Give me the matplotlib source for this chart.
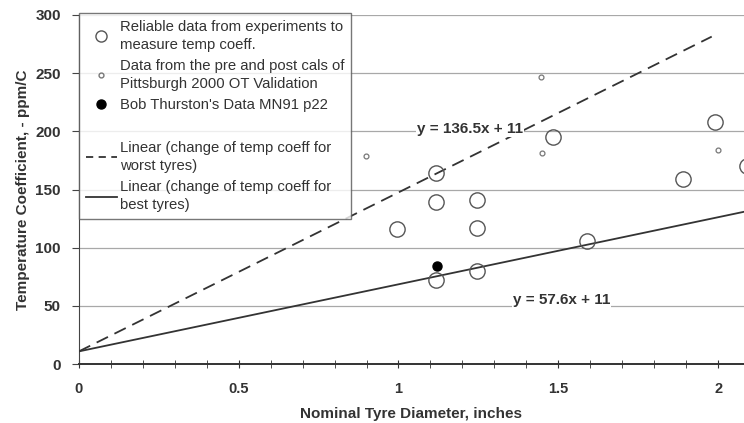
import matplotlib
matplotlib.use("Agg")
import matplotlib.pyplot as plt
from matplotlib.lines import Line2D
import numpy as np

plt.rcParams['font.family'] = ['Liberation Sans', 'DejaVu Sans']

# reliable experiment data (large open circles)
reliable_x = [0.995, 1.117, 1.117, 1.246, 1.246, 1.484, 1.59, 1.89, 1.99, 2.09, 1.117, 1.246]
reliable_y = [116, 164, 139, 141, 117, 195, 106, 159, 208, 170, 72, 80]

# Pittsburgh 2000 OT validation data (small open circles)
pitts_x = [0.898, 1.447, 1.449, 2.0]
pitts_y = [179, 247, 181, 184]

# Bob Thurston's data (filled dot)
bob_x = [1.12]
bob_y = [84]

# trendlines
worst_slope, worst_icpt = 136.5, 11
best_slope, best_icpt = 57.6, 11
worst_xmax = 1.98
best_xmax = 2.1

fig = plt.figure(figsize=(7.44, 4.23), dpi=100)
ax = fig.add_axes([0.106, 0.139, 0.894, 0.826])

grey = '#555555'
ax.set_xlim(0, 2.081)
ax.set_ylim(0, 300)

# horizontal gridlines
for g in range(50, 301, 50):
    ax.axhline(g, color='#a8a8a8', lw=0.9, zorder=1)

xw = np.array([0, worst_xmax])
ax.plot(xw, worst_slope * xw + worst_icpt, color='#333333', lw=1.3,
        dashes=(7, 4), zorder=3)
xb = np.array([0, best_xmax])
ax.plot(xb, best_slope * xb + best_icpt, color='#333333', lw=1.3, zorder=3)

ax.plot(reliable_x, reliable_y, 'o', ms=11, mfc='none', mec=grey, mew=1.0, zorder=4)
ax.plot(pitts_x, pitts_y, 'o', ms=3.5, mfc='none', mec='#777777', mew=0.9, zorder=4)
ax.plot(bob_x, bob_y, 'o', ms=6.5, mfc='black', mec='black', zorder=5)

# trendline equations
ax.text(1.224, 202, 'y = 136.5x + 11', fontsize=11, fontweight='bold', color='#333333',
        ha='center', va='center', zorder=6,
        bbox=dict(facecolor='white', edgecolor='none', pad=0.5))
ax.text(1.51, 55, 'y = 57.6x + 11', fontsize=11, fontweight='bold', color='#333333',
        ha='center', va='center', zorder=6,
        bbox=dict(facecolor='white', edgecolor='none', pad=0.5))

# axes styling
for s in ['top', 'right']:
    ax.spines[s].set_visible(False)
ax.spines['left'].set_color('#444444')
ax.spines['bottom'].set_color('#333333')
ax.spines['bottom'].set_linewidth(1.4)

ax.set_xticks([0, 0.5, 1, 1.5, 2])
ax.set_xticklabels(['0', '0.5', '1', '1.5', '2'])
ax.set_xticks(np.arange(0, 2.09, 0.1), minor=True)
ax.tick_params(axis='x', which='both', direction='inout', length=6, color='#333333',
               pad=10, labelsize=10.5, labelcolor='#333333')
ax.set_yticks(range(0, 301, 50))
ax.tick_params(axis='y', direction='out', length=5, color='#444444', pad=8,
               labelsize=11, labelcolor='#333333')
for lab in ax.get_xticklabels() + ax.get_yticklabels():
    lab.set_fontweight('bold')

ax.set_xlabel('Nominal Tyre Diameter, inches', fontsize=11, fontweight='bold',
              color='#333333', labelpad=8)
ax.set_ylabel('Temperature Coefficient, - ppm/C', fontsize=11, fontweight='bold',
              color='#333333', labelpad=4)

handles = [
    Line2D([], [], ls='none', marker='o', ms=8, mfc='none', mec=grey),
    Line2D([], [], ls='none', marker='o', ms=3.5, mfc='none', mec='#777777'),
    Line2D([], [], ls='none', marker='o', ms=6.5, mfc='black', mec='black'),
    Line2D([], [], ls='none'),
    Line2D([], [], color='#333333', lw=1.3, dashes=(4, 3)),
    Line2D([], [], color='#333333', lw=1.3),
]
labels = [
    'Reliable data from experiments to\nmeasure temp coeff.',
    'Data from the pre and post cals of\nPittsburgh 2000 OT Validation',
    "Bob Thurston's Data MN91 p22",
    ' ',
    'Linear (change of temp coeff for\nworst tyres)',
    'Linear (change of temp coeff for\nbest tyres)',
]
leg = ax.legend(handles, labels, loc='upper left', bbox_to_anchor=(0, 1.005),
                borderaxespad=0, fontsize=10.7, frameon=True, fancybox=False,
                handlelength=2.1, handletextpad=0.2, labelspacing=0.5,
                borderpad=0.45)
leg.get_frame().set_edgecolor('#555555')
leg.get_frame().set_linewidth(1.0)
leg.set_zorder(10)
for t in leg.get_texts():
    t.set_color('#333333')
    t.set_linespacing(1.35)

plt.savefig('out.png', dpi=100)
